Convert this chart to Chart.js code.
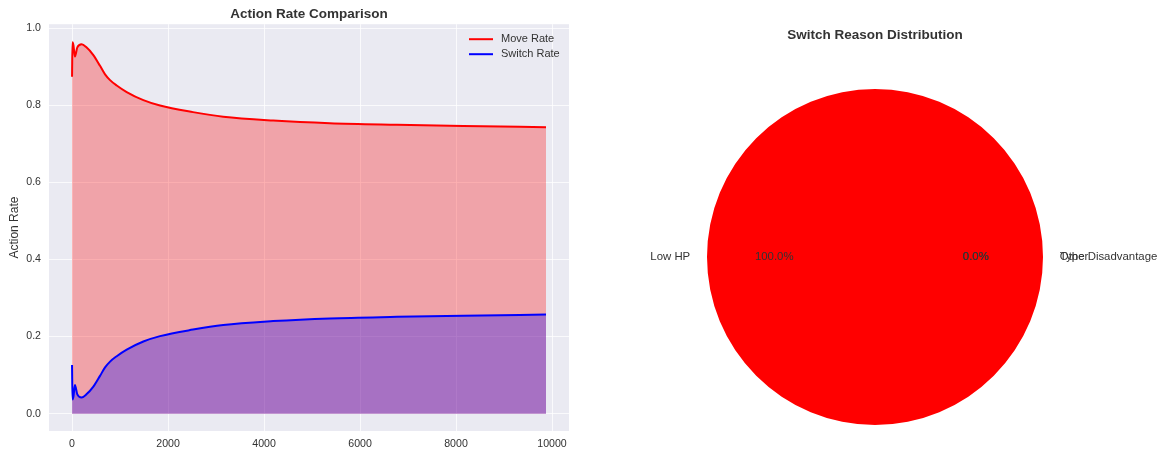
<!DOCTYPE html>
<html>
<head>
<meta charset="utf-8">
<script src="https://cdn.jsdelivr.net/npm/chart.js@4.4.1/dist/chart.umd.min.js"></script>
<style>
  body { margin: 0; background: #fff; }
  #left { position: absolute; left: 0; top: 0; width: 578px; height: 450px; }
  #right { position: absolute; left: 578px; top: 0; width: 579px; height: 450px; }
</style>
</head>
<body>
<div id="left"><canvas id="rateChart"></canvas></div>
<div id="right"><canvas id="pieChart"></canvas></div>
<script>
// data
var steps = [0, 10, 30, 60, 110, 200, 300, 444, 583, 688, 792, 931, 1139, 1486, 1833, 2520, 3150, 4190, 5370, 6770, 8150, 9875];
var moveRate = [0.874, 0.963, 0.955, 0.926, 0.950, 0.958, 0.950, 0.930, 0.902, 0.880, 0.865, 0.851, 0.834, 0.813, 0.799, 0.782, 0.770, 0.760, 0.753, 0.749, 0.746, 0.743];
var switchRate = [0.126, 0.037, 0.045, 0.074, 0.050, 0.042, 0.050, 0.070, 0.098, 0.120, 0.135, 0.149, 0.166, 0.187, 0.201, 0.218, 0.230, 0.240, 0.247, 0.251, 0.254, 0.257];
var xTicks = [0, 2000, 4000, 6000, 8000, 10000];
var yTicks = [0.0, 0.2, 0.4, 0.6, 0.8, 1.0];

var reasonLabels = ["Low HP", "Type Disadvantage", "Other"];
var reasonCounts = [100, 0, 0];
var reasonColors = ["#ff0000", "#ff7f0e", "#1f77b4"];

var FONT = '"Liberation Sans", Arial, sans-serif';
var TEXT = '#333';

// gray plot background like seaborn
var plotBg = {
  id: 'plotBg',
  beforeDraw: function(chart) {
    var a = chart.chartArea, ctx = chart.ctx;
    ctx.save();
    ctx.fillStyle = '#eaeaf2';
    ctx.fillRect(a.left, a.top, a.right - a.left, a.bottom - a.top);
    ctx.restore();
  }
};

// legend inside top right corner
var innerLegend = {
  id: 'innerLegend',
  afterDraw: function(chart) {
    var a = chart.chartArea, ctx = chart.ctx;
    ctx.save();
    ctx.font = '11px ' + FONT;
    ctx.textBaseline = 'middle';
    ctx.textAlign = 'left';
    chart.data.datasets.forEach(function(ds, i) {
      var y = a.top + 15 + i * 15;
      ctx.strokeStyle = ds.borderColor;
      ctx.lineWidth = 2;
      ctx.beginPath();
      ctx.moveTo(a.right - 100, y);
      ctx.lineTo(a.right - 76, y);
      ctx.stroke();
      ctx.fillStyle = TEXT;
      ctx.fillText(ds.label, a.right - 68, y);
    });
    ctx.restore();
  }
};

var ctx1 = document.getElementById('rateChart').getContext('2d');
var rateChart = new Chart(ctx1, {
  type: 'line',
  data: {
    datasets: [
      {
        label: 'Move Rate',
        data: steps.map(function(s, i) { return {x: s, y: moveRate[i]}; }),
        borderColor: '#ff0000',
        backgroundColor: 'rgba(255,0,0,0.3)',
        borderWidth: 2,
        pointRadius: 0,
        fill: 'origin',
        cubicInterpolationMode: 'monotone',
        order: 2
      },
      {
        label: 'Switch Rate',
        data: steps.map(function(s, i) { return {x: s, y: switchRate[i]}; }),
        borderColor: '#0000ff',
        backgroundColor: 'rgba(0,0,255,0.3)',
        borderWidth: 2,
        pointRadius: 0,
        fill: 'origin',
        cubicInterpolationMode: 'monotone',
        order: 1
      }
    ]
  },
  options: {
    responsive: true,
    maintainAspectRatio: false,
    animation: false,
    layout: { padding: { left: 0, right: 9, top: 0, bottom: 0 } },
    plugins: {
      legend: { display: false },
      tooltip: { enabled: false },
      title: {
        display: true,
        text: 'Action Rate Comparison',
        fullSize: false,
        color: TEXT,
        font: { family: FONT, size: 13.5, weight: 'bold' },
        padding: { top: 6, bottom: 2 }
      }
    },
    scales: {
      x: {
        type: 'linear',
        min: -480,
        max: 10354,
        afterBuildTicks: function(scale) { scale.ticks = xTicks.map(function(v) { return {value: v}; }); },
        afterFit: function(scale) { scale.height = 19; },
        grid: { color: 'rgba(255,255,255,0.75)', lineWidth: 1, drawTicks: false },
        border: { display: false },
        ticks: {
          padding: 7,
          maxRotation: 0,
          color: TEXT,
          font: { family: FONT, size: 10.6 },
          callback: function(v) { return String(v); }
        }
      },
      y: {
        min: -0.045,
        max: 1.01,
        afterBuildTicks: function(scale) { scale.ticks = yTicks.map(function(v) { return {value: v}; }); },
        afterFit: function(scale) { scale.width = 49; },
        grid: { color: 'rgba(255,255,255,0.75)', lineWidth: 1, drawTicks: false },
        border: { display: false },
        title: {
          display: true,
          text: 'Action Rate',
          color: TEXT,
          font: { family: FONT, size: 12 },
          padding: { top: 7, bottom: 0 }
        },
        ticks: {
          padding: 8,
          color: TEXT,
          font: { family: FONT, size: 10.6 },
          callback: function(v) { return Number(v).toFixed(1); }
        }
      }
    }
  },
  plugins: [plotBg, innerLegend]
});

// pie labels at 1.1 r and percentages at 0.6 r, matplotlib style
var pieLabels = {
  id: 'pieLabels',
  afterDatasetsDraw: function(chart) {
    var meta = chart.getDatasetMeta(0);
    var data = chart.data.datasets[0].data;
    var total = data.reduce(function(a, b) { return a + b; }, 0);
    var c = chart.ctx;
    c.save();
    c.textBaseline = 'middle';
    meta.data.forEach(function(arc, i) {
      var p = arc.getProps(['x', 'y', 'startAngle', 'endAngle', 'outerRadius'], true);
      var mid = (p.startAngle + p.endAngle) / 2;
      var cs = Math.cos(mid), sn = Math.sin(mid);
      var r = p.outerRadius;
      c.fillStyle = TEXT;
      c.font = '11.4px ' + FONT;
      c.textAlign = cs > 0 ? 'left' : 'right';
      c.fillText(chart.data.labels[i], p.x + 1.1 * r * cs, p.y + 1.1 * r * sn);
      c.textAlign = 'center';
      c.fillText((data[i] / total * 100).toFixed(1) + '%', p.x + 0.6 * r * cs, p.y + 0.6 * r * sn);
    });
    c.restore();
  }
};

var ctx2 = document.getElementById('pieChart').getContext('2d');
var pieChart = new Chart(ctx2, {
  type: 'pie',
  data: {
    labels: reasonLabels,
    datasets: [{
      data: reasonCounts,
      backgroundColor: reasonColors,
      borderWidth: 0
    }]
  },
  options: {
    responsive: true,
    maintainAspectRatio: false,
    animation: false,
    rotation: 90,
    radius: 168,
    layout: { padding: { left: 15, right: 0, top: 0, bottom: 0 } },
    plugins: {
      legend: { display: false },
      tooltip: { enabled: false },
      title: {
        display: true,
        text: 'Switch Reason Distribution',
        color: TEXT,
        font: { family: FONT, size: 13.5, weight: 'bold' },
        padding: { top: 27.6, bottom: 20.2 }
      }
    }
  },
  plugins: [pieLabels]
});
</script>
</body>
</html>
